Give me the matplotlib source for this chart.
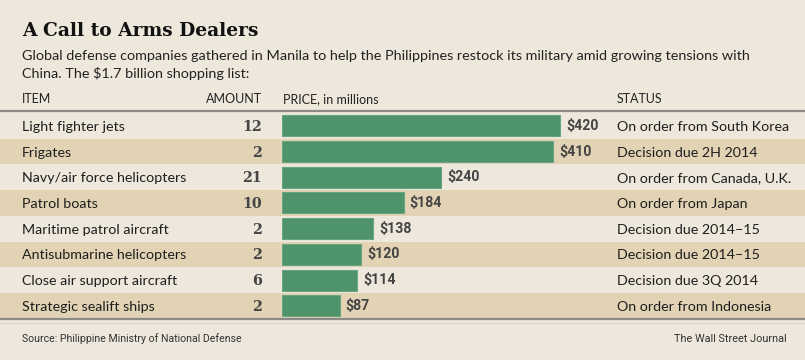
import matplotlib
matplotlib.use("Agg")
import matplotlib.pyplot as plt
from matplotlib.patches import Rectangle

# ---- data ----
items = ["Light fighter jets", "Frigates", "Navy/air force helicopters", "Patrol boats",
         "Maritime patrol aircraft", "Antisubmarine helicopters", "Close air support aircraft",
         "Strategic sealift ships"]
amounts = [12, 2, 21, 10, 2, 2, 6, 2]
prices = [420, 410, 240, 184, 138, 120, 114, 87]
statuses = ["On order from South Korea", "Decision due 2H 2014", "On order from Canada, U.K.",
            "On order from Japan", "Decision due 2014\u201315", "Decision due 2014\u201315",
            "Decision due 3Q 2014", "On order from Indonesia"]
headers = ["ITEM", "AMOUNT", "PRICE, in millions", "STATUS"]
title = "A Call to Arms Dealers"
subtitle_lines = ["Global defense companies gathered in Manila to help the Philippines restock its military amid growing tensions with",
                  "China. The $1.7 billion shopping list:"]
source = "Source: Philippine Ministry of National Defense"
credit = "The Wall Street Journal"

# ---- layout (pixels) ----
W, H = 805, 360
BG = "#EEE8DC"
STRIPE = "#E2D3B5"
GREEN = "#4E9369"
row_top = 113.0
row_h = 25.7
n = len(items)
bar_x0 = 282
px_per_unit = 0.662

fig = plt.figure(figsize=(W / 100, H / 100), dpi=100)
fig.patch.set_facecolor(BG)
ax = fig.add_axes([0, 0, 1, 1])
ax.set_xlim(0, W)
ax.set_ylim(H, 0)
ax.axis("off")

sans = ["Lato", "DejaVu Sans"]
narrow = ["Liberation Sans Narrow", "Roboto", "DejaVu Sans"]
serif = ["DejaVu Serif Condensed", "DejaVu Serif"]

# stripes
for i in range(n):
    if i % 2 == 1:
        ax.add_patch(Rectangle((0, row_top + i * row_h), W, row_h, facecolor=STRIPE,
                               edgecolor="none", zorder=0))

# header line / bottom line
ax.plot([0, W], [110.5, 110.5], color="#8C8A86", lw=1.6, zorder=2)
bottom = row_top + n * row_h
ax.plot([0, W], [bottom + 0.5, bottom + 0.5], color="#8C8A86", lw=1.6, zorder=2)
ax.plot([0, W], [bottom + 4, bottom + 4], color="#D8D2C6", lw=0.8, zorder=2)

# title and subtitle
ax.text(22, 36, title, fontsize=13.4, fontweight="heavy", family=serif,
        color="#111111", va="baseline", ha="left")
ax.text(22, 59.5, subtitle_lines[0], fontsize=10.35, family=sans, color="#222222",
        va="baseline", ha="left")
ax.text(22, 77.5, subtitle_lines[1], fontsize=10.35, family=sans, color="#222222",
        va="baseline", ha="left")

# headers
hy = 103
ax.text(22, hy, headers[0], fontsize=9.0, family=sans, color="#222", va="baseline")
ax.text(262, hy, headers[1], fontsize=9.0, family=sans, color="#222", va="baseline", ha="right")
ax.text(283, hy, headers[2], fontsize=9.0, family=sans, color="#222", va="baseline")
ax.text(617, hy, headers[3], fontsize=9.0, family=sans, color="#222", va="baseline")

# rows text
for i in range(n):
    yc = row_top + (i + 0.5) * row_h
    ax.text(22, yc + 5.0, items[i], fontsize=10.3, family=sans, color="#1e1e1e", va="baseline")
    ax.text(262, yc + 5.0, str(amounts[i]), fontsize=10.3, family=serif, fontweight="bold",
            color="#454545", va="baseline", ha="right")
    ax.text(617, yc + 5.0, statuses[i], fontsize=10.3, family=sans, color="#1e1e1e", va="baseline")

# footer
ax.text(22, 341.5, source, fontsize=7.6, family=narrow, color="#333", va="baseline")
ax.text(787, 341.5, credit, fontsize=7.8, family=narrow, color="#333", va="baseline", ha="right")

# bar axes positioned in the figure
bw_px = W - bar_x0
bax = fig.add_axes([bar_x0 / W, (H - bottom) / H, bw_px / W, (n * row_h) / H])
bax.set_xlim(0, bw_px / px_per_unit)
bax.set_ylim(n - 0.5, -0.5)
bax.axis("off")
bax.patch.set_alpha(0)
ypos = list(range(n))
bax.barh(ypos, prices, height=0.82, color=GREEN, edgecolor="#6AA582", linewidth=0.8, zorder=3)
for i, v in enumerate(prices):
    bax.annotate(f"${v}", (v, i), xytext=(6, 0), textcoords="offset pixels",
                 fontsize=10.2, fontweight="bold", family=narrow, color="#444444",
                 va="center", ha="left")

fig.savefig("out.png", dpi=100, facecolor=BG)
